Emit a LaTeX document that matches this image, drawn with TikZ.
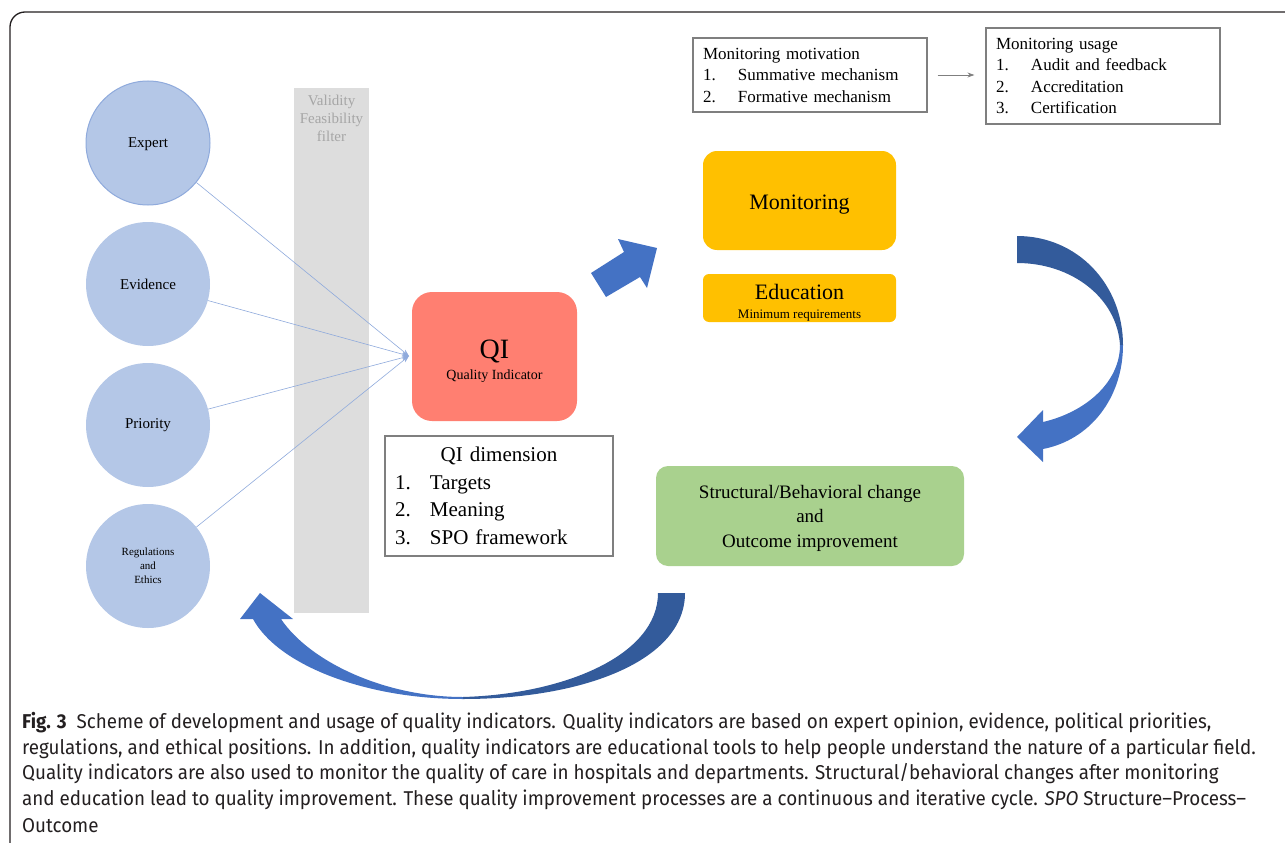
\documentclass[tikz,border=0pt]{standalone}
\usepackage{fontspec}
\setmainfont{Liberation Serif}
\newfontfamily\capfont[FakeStretch=0.94]{Fira Sans}
\usetikzlibrary{arrows.meta}

\definecolor{srcblue}{HTML}{B4C7E7}
\definecolor{srcedge}{HTML}{8FAADC}
\definecolor{filtergray}{HTML}{DDDDDD}
\definecolor{filtertext}{HTML}{A6A6A6}
\definecolor{qired}{HTML}{FF7F71}
\definecolor{monyellow}{HTML}{FFC000}
\definecolor{chggreen}{HTML}{A9D18E}
\definecolor{arrowblue}{HTML}{4472C4}
\definecolor{arrowdark}{HTML}{335B9B}
\definecolor{boxgray}{HTML}{7F7F7F}
\definecolor{captext}{HTML}{231F20}

\newcommand{\itemno}[1]{\makebox[35pt][l]{#1}}

\begin{document}
\begin{tikzpicture}[x=1pt,y=-1pt,
  src/.style={circle,fill=srcblue,minimum size=124pt,inner sep=0pt,align=center,font=\fontsize{15}{17}\selectfont},
  feed/.style={srcedge,line width=0.6pt,-{Stealth[length=7pt,width=5pt]}},
  listbox/.style={draw=boxgray,line width=1.2pt,fill=white,align=left,inner xsep=10pt,inner ysep=0pt,font=\fontsize{17}{21.5}\selectfont},
  stage/.style={rounded corners=#1,inner sep=0pt,align=center},
  stage/.default=14pt]

    \useasboundingbox (0,0) rectangle (1285,843);

    % 外框
    \draw[captext,line width=1.3pt,rounded corners=15pt] (10,843) -- (10,12) -- (1285,12);

    % 过滤条
    \fill[filtergray] (294,88) rectangle (369,613);
    \node[anchor=north,align=center,text=filtertext,font=\fontsize{15}{18}\selectfont,inner sep=0pt] (filter) at (331.5,95) {Validity\\Feasibility\\filter};

    % 四个来源
    \node[src,draw=srcedge,line width=1pt,text depth=0pt] (expert) at (148,143) {Expert};
    \node[src] (evidence) at (148,284) {Evidence};
    \node[src] (priority) at (148,425) {Priority};
    \node[src,font=\fontsize{11}{14}\selectfont] (ethics) at (148,566) {Regulations\\and\\Ethics};

    % 汇合点
    \coordinate (J) at (409,356);
    \draw[feed] (expert) -- (J);
    \draw[feed] (evidence) -- (J);
    \draw[feed] (priority) -- (J);
    \draw[feed] (ethics) -- (J);

    % QI
    \node[stage=20pt,fill=qired,minimum width=165pt,minimum height=129pt,font=\fontsize{14}{21}\selectfont] (qi) at (494.5,356.5)
      {{\fontsize{28}{30}\selectfont\rule{0pt}{28pt}QI}\\Quality Indicator};
    \node[listbox,text width=208pt,minimum height=120pt,font=\fontsize{21}{27.5}\selectfont] (dim) at (499,496)
      {\makebox[208pt]{QI dimension}\\\itemno{1.}Targets\\\itemno{2.}Meaning\\\itemno{3.}SPO framework};

    % 监测与教育
    \node[stage,fill=monyellow,minimum width=193pt,minimum height=99pt,text height=18pt,text depth=0pt,font=\fontsize{22}{24}\selectfont] (mon) at (799.5,200.5) {Monitoring};
    \node[stage=6pt,fill=monyellow,minimum width=193pt,minimum height=48pt,font=\fontsize{13}{19}\selectfont] (edu) at (799.5,298)
      {{\fontsize{22}{24}\selectfont\rule{0pt}{24pt}Education}\\Minimum requirements};

    % 上方两个列表
    \node[listbox,text width=214pt,minimum height=74pt] (motiv) at (810,75)
      {Monitoring motivation\\\itemno{1.}Summative mechanism\\\itemno{2.}Formative mechanism};
    \node[listbox,text width=214pt,minimum height=96pt] (usage) at (1103,76)
      {Monitoring usage\\\itemno{1.}Audit and feedback\\\itemno{2.}Accreditation\\\itemno{3.}Certification};
    \draw[boxgray,line width=0.8pt,-{Stealth[length=7pt,width=5pt]},shorten <=10pt,shorten >=11pt] (motiv.east) -- (motiv.east -| usage.west);

    % 结构/行为改变
    \node[stage=12pt,fill=chggreen,minimum width=308pt,minimum height=100pt,font=\fontsize{19}{24.5}\selectfont] (change) at (810,516)
      {\strut Structural/Behavioral change\\and\\Outcome improvement};

    % 直箭头
    \fill[arrowblue] (591,273) -- (624,252) -- (618,239) -- (657,248) -- (647,288) -- (640,277) -- (606,297) -- cycle;

    % 右侧弯箭头
    \fill[arrowdark] (1017,236) .. controls (1078,236) and (1123,285) .. (1123,345)
      -- (1120,345) .. controls (1117,298) and (1072,263) .. (1017,263) -- cycle;
    \fill[arrowblue] (1123,345) .. controls (1123,398) and (1090,440) .. (1043,449)
      -- (1043,462) -- (1017,437) -- (1043,410) -- (1043,422)
      .. controls (1086,412) and (1120,382) .. (1120,345) -- cycle;

    % 下方弯箭头
    \fill[arrowdark] (685,593) .. controls (685,660) and (585,699) .. (463,699)
      -- (463,697) .. controls (565,694) and (658,655) .. (658,593) -- cycle;
    \fill[arrowblue] (463,699) .. controls (365,699) and (278,665) .. (253,619)
      -- (240,619) -- (260,593) -- (293,619) -- (281,619)
      .. controls (310,662) and (385,697) .. (463,697) -- cycle;

    % 图注
    \node[anchor=north west,align=left,inner sep=0pt,text=captext,font=\capfont\fontsize{20}{25.6}\selectfont] (caption) at (22,712)
      {\textbf{Fig. 3}\enspace Scheme of development and usage of quality indicators. Quality indicators are based on expert opinion, evidence, political priorities,\\
       regulations, and ethical positions. In addition, quality indicators are educational tools to help people understand the nature of a particular field.\\
       Quality indicators are also used to monitor the quality of care in hospitals and departments. Structural/behavioral changes after monitoring\\
       and education lead to quality improvement. These quality improvement processes are a continuous and iterative cycle. \textit{SPO} Structure–Process–\\[1.5pt]
       Outcome};

\end{tikzpicture}
\end{document}
